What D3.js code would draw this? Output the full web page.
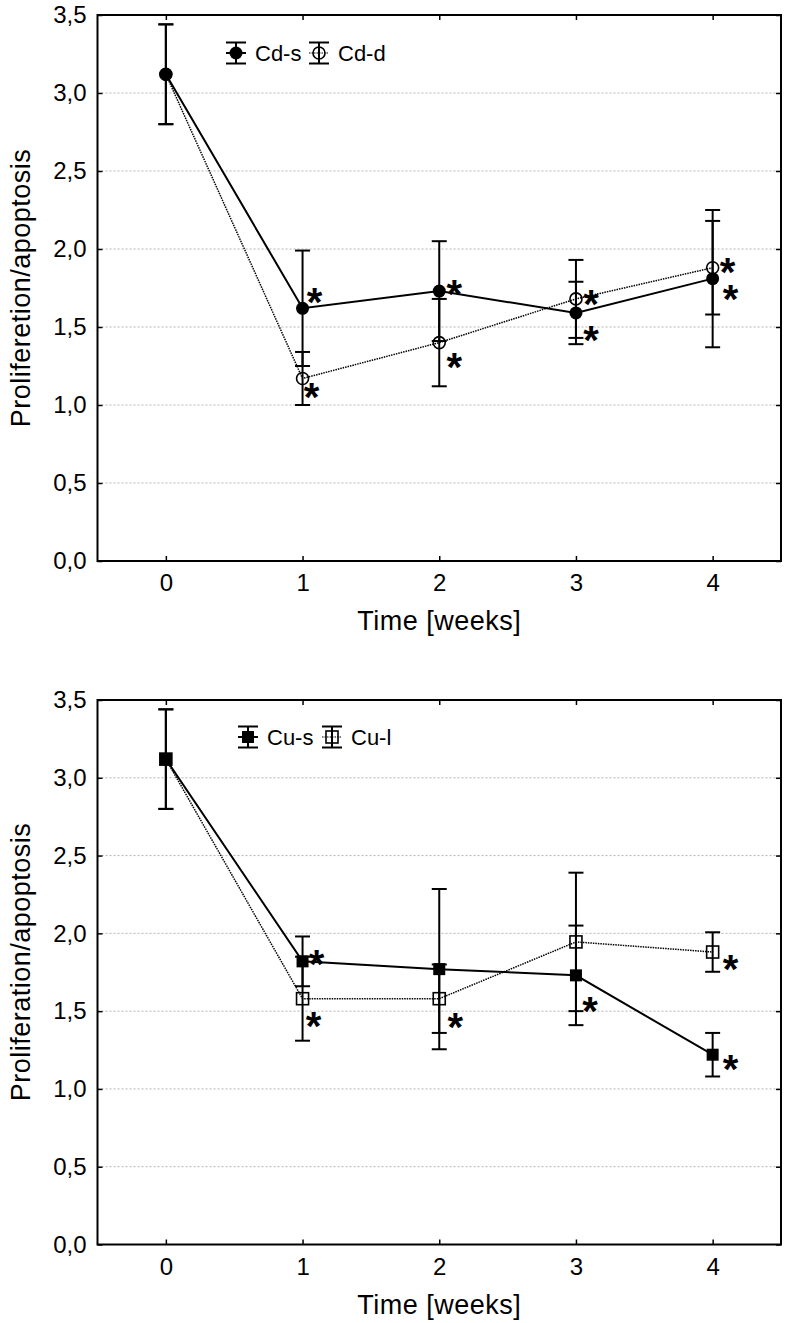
<!DOCTYPE html>
<html>
<head>
<meta charset="utf-8">
<script src="https://cdn.jsdelivr.net/npm/d3@7"></script>
<style>
  html, body { margin: 0; padding: 0; background: #fff; }
  svg { display: block; font-family: "Liberation Sans", Arial, Helvetica, sans-serif; }
</style>
</head>
<body>
<svg id="chart" width="787" height="1323"></svg>
<script>
// ---------------- DATA ----------------
const weeks = [0, 1, 2, 3, 4];
const xTickLabels = ["0", "1", "2", "3", "4"];
const yTicks = [0, 0.5, 1.0, 1.5, 2.0, 2.5, 3.0, 3.5];
const yGrid = [0.5, 1.0, 1.5, 2.0, 2.5, 3.0];

// Panel A (cadmium)
const cdS = [3.12, 1.62, 1.73, 1.59, 1.81];
const cdSErr = [0.32, 0.37, 0.32, 0.20, 0.44];
const cdSSig = [false, true, true, true, true];
const cdD = [3.12, 1.17, 1.40, 1.68, 1.88];
const cdDErr = [0.32, 0.17, 0.28, 0.25, 0.30];
const cdDSig = [false, true, true, true, true];

// Panel B (copper)
const cuS = [3.12, 1.82, 1.77, 1.73, 1.22];
const cuSErr = [0.32, 0.16, 0.515, 0.32, 0.14];
const cuSSig = [false, true, false, true, true];
const cuL = [3.12, 1.58, 1.58, 1.945, 1.88];
const cuLErr = [0.32, 0.27, 0.22, 0.445, 0.127];
const cuLSig = [false, true, true, false, true];

const xTitle = "Time [weeks]";
const yTitleA = "Proliferetion/apoptosis";
const yTitleB = "Proliferation/apoptosis";

// ---------------- LAYOUT ----------------
const svg = d3.select("#chart");
const left = 97.5, right = 781;
const x = d3.scaleLinear().domain([-0.5, 4.5]).range([left, right]);
const fmt = d => d3.format(".1f")(d).replace(".", ",");

// star offsets (annotation placement, px) per series/point
const starOffsets = {
  cdS: [null, [12, -15], [15, -6], [15, 18], [18, 11]],
  cdD: [null, [9, 9], [15, 15], [15, -4], [15, -5]],
  cuS: [null, [14, -7], null, [14, 26], [18, 5]],
  cuL: [null, [11, 18], [16, 19], null, [18, 8]]
};

function drawPanel(cfg) {
  const y = d3.scaleLinear().domain([0, 3.5]).range([cfg.bottom, cfg.top]);
  const g = svg.append("g");

  // grid
  g.selectAll("line.grid").data(yGrid).join("line")
    .attr("x1", left).attr("x2", right)
    .attr("y1", d => y(d)).attr("y2", d => y(d))
    .attr("stroke", "#b4b4b4").attr("stroke-width", 1)
    .attr("stroke-dasharray", "2,2");

  // axes
  const ax = d3.axisBottom(x).tickValues(weeks).tickFormat((d, i) => xTickLabels[i])
    .tickSize(-5).tickSizeOuter(0).tickPadding(13);
  const gx = g.append("g").attr("transform", `translate(0,${cfg.bottom})`).call(ax);
  gx.selectAll("text").attr("font-size", 24).attr("fill", "#000").attr("font-family", "Liberation Sans, Arial, sans-serif");

  const axT = d3.axisTop(x).tickValues(weeks).tickFormat("").tickSize(-5).tickSizeOuter(0);
  g.append("g").attr("transform", `translate(0,${cfg.top})`).call(axT);

  const ay = d3.axisLeft(y).tickValues(yTicks).tickFormat(fmt).tickSize(-5).tickSizeOuter(0).tickPadding(11);
  const gy = g.append("g").attr("transform", `translate(${left},0)`).call(ay);
  gy.selectAll("text").attr("font-size", 24).attr("fill", "#000").attr("font-family", "Liberation Sans, Arial, sans-serif");

  const ayR = d3.axisRight(y).tickValues(yTicks).tickFormat("").tickSize(-5).tickSizeOuter(0);
  g.append("g").attr("transform", `translate(${right},0)`).call(ayR);

  g.selectAll(".tick line").attr("stroke", "#000").attr("stroke-width", 1.5);
  g.selectAll(".domain").remove();

  // frame
  g.append("rect").attr("x", left).attr("y", cfg.top)
    .attr("width", right - left).attr("height", cfg.bottom - cfg.top)
    .attr("fill", "none").attr("stroke", "#000").attr("stroke-width", 2);

  // titles
  g.append("text").attr("x", (left + right) / 2).attr("y", cfg.bottom + 69)
    .attr("text-anchor", "middle").attr("font-size", 27).attr("letter-spacing", 0.5)
    .text(xTitle);
  g.append("text")
    .attr("transform", `translate(30,${cfg.yTitleCenter}) rotate(-90)`)
    .attr("text-anchor", "middle").attr("font-size", 27).attr("letter-spacing", 0.5)
    .text(cfg.yTitle);

  const line = d3.line().x((d, i) => x(weeks[i])).y(d => y(d));

  // series lines
  cfg.series.forEach(s => {
    g.append("path").datum(s.values).attr("d", line)
      .attr("fill", "none").attr("stroke", "#000")
      .attr("stroke-width", s.dashed ? 1.5 : 2)
      .attr("stroke-dasharray", s.dashed ? "1.5,1" : null);
  });

  // error bars
  const cap = 7.5;
  cfg.series.forEach(s => {
    s.values.forEach((v, i) => {
      const cx = x(weeks[i]);
      const y1 = y(v + s.err[i]), y2 = y(v - s.err[i]);
      g.append("line").attr("x1", cx).attr("x2", cx).attr("y1", y1).attr("y2", y2)
        .attr("stroke", "#000").attr("stroke-width", 2);
      [y1, y2].forEach(yy => g.append("line").attr("x1", cx - cap).attr("x2", cx + cap)
        .attr("y1", yy).attr("y2", yy).attr("stroke", "#000").attr("stroke-width", 2));
    });
  });

  // markers
  function marker(sel, s, cx, cy) {
    if (s.shape === "circle") {
      sel.append("circle").attr("cx", cx).attr("cy", cy).attr("r", s.filled ? 6.5 : 6)
        .attr("fill", s.filled ? "#000" : "none").attr("stroke", "#000")
        .attr("stroke-width", s.filled ? 0 : 1.6);
    } else {
      const h = 6;
      sel.append("rect").attr("x", cx - h).attr("y", cy - h).attr("width", 2 * h).attr("height", 2 * h)
        .attr("fill", s.filled ? "#000" : "none").attr("stroke", "#000")
        .attr("stroke-width", s.filled ? 0 : 1.6);
    }
  }
  cfg.series.forEach(s => {
    s.values.forEach((v, i) => marker(g, s, x(weeks[i]), y(v)));
  });

  // significance asterisks
  const fs = 40;
  cfg.series.forEach(s => {
    s.values.forEach((v, i) => {
      if (!s.sig[i]) return;
      const off = starOffsets[s.key][i];
      if (!off) return;
      g.append("text").attr("x", x(weeks[i]) + off[0]).attr("y", y(v) + off[1] + 0.58 * fs)
        .attr("text-anchor", "middle").attr("font-size", fs).attr("font-weight", "bold")
        .text("*");
    });
  });

  // legend
  const ly = cfg.legendY;
  cfg.series.forEach(s => {
    const cx = s.legendCx;
    g.append("line").attr("x1", cx).attr("x2", cx).attr("y1", ly - 10.5).attr("y2", ly + 10.5)
      .attr("stroke", "#000").attr("stroke-width", 2);
    [ly - 10.5, ly + 10.5].forEach(yy => g.append("line").attr("x1", cx - 10).attr("x2", cx + 10)
      .attr("y1", yy).attr("y2", yy).attr("stroke", "#000").attr("stroke-width", 2));
    g.append("line").attr("x1", cx - 10).attr("x2", cx + 10).attr("y1", ly).attr("y2", ly)
      .attr("stroke", "#000").attr("stroke-width", s.dashed ? 1.2 : 2)
      .attr("stroke-dasharray", s.dashed ? "1.5,1" : null);
    marker(g, s, cx, ly);
    g.append("text").attr("x", cx + 19).attr("y", ly + 8).attr("font-size", 22).text(s.name);
  });
}

drawPanel({
  top: 15, bottom: 561, yTitle: yTitleA, yTitleCenter: 288,
  legendY: 53,
  series: [
    { key: "cdS", name: "Cd-s", values: cdS, err: cdSErr, sig: cdSSig, shape: "circle", filled: true, dashed: false, legendCx: 236 },
    { key: "cdD", name: "Cd-d", values: cdD, err: cdDErr, sig: cdDSig, shape: "circle", filled: false, dashed: true, legendCx: 319 }
  ]
});

drawPanel({
  top: 700, bottom: 1244.5, yTitle: yTitleB, yTitleCenter: 962,
  legendY: 737,
  series: [
    { key: "cuS", name: "Cu-s", values: cuS, err: cuSErr, sig: cuSSig, shape: "square", filled: true, dashed: false, legendCx: 248 },
    { key: "cuL", name: "Cu-l", values: cuL, err: cuLErr, sig: cuLSig, shape: "square", filled: false, dashed: true, legendCx: 332 }
  ]
});
</script>
</body>
</html>
